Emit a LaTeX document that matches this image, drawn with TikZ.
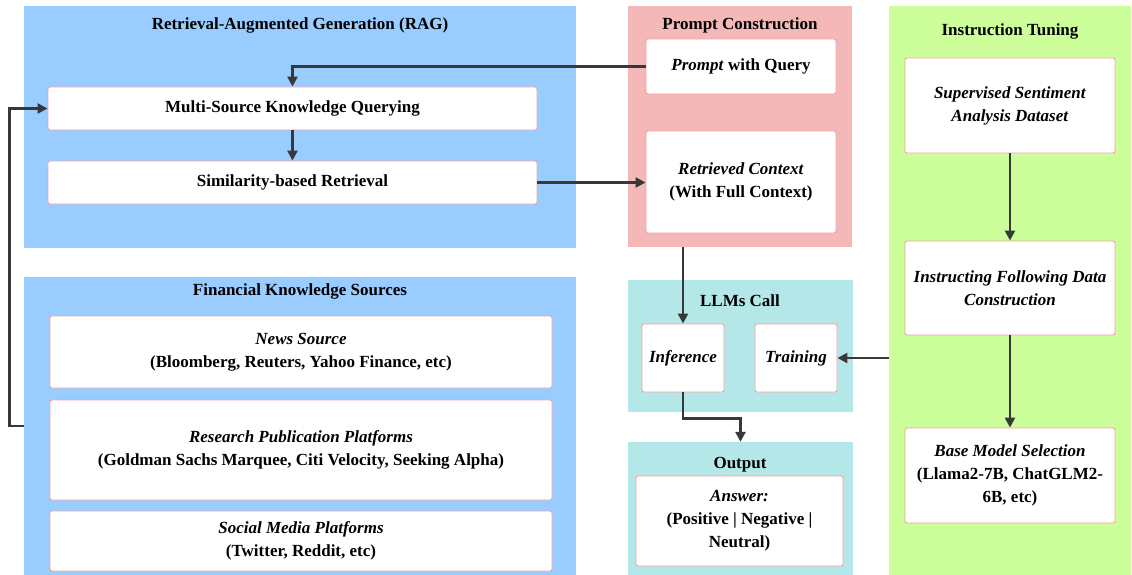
\documentclass[tikz,border=0pt]{standalone}
\usepackage{fontspec}
\setmainfont{Liberation Serif}
\usepackage{xcolor}
\usepackage{tikz}
\usetikzlibrary{arrows.meta}
\usetikzlibrary{calc}
\definecolor{ragblue}{RGB}{153,204,255}
\definecolor{promptpink}{RGB}{244,184,184}
\definecolor{llmcyan}{RGB}{180,232,232}
\definecolor{tunegreen}{RGB}{204,255,153}
\definecolor{boxedge}{RGB}{242,160,160}
\colorlet{flowgray}{black!78}
\tikzstyle{panel}=[draw=none,inner sep=0pt]
\tikzstyle{ptitle}=[inner sep=0pt,font=\bfseries]
\tikzstyle{stage}=[draw=boxedge,line width=.9pt,rounded corners=2pt,fill=white,align=center,inner sep=2pt,font=\bfseries]
\tikzstyle{flowhead}=[>/.tip={Triangle[length=10pt,width=10pt]}]
\tikzstyle{flow}=[line width=2.8pt,draw=flowgray,flowhead,->]
\begin{document}
\fontsize{17}{23}\selectfont
\begin{tikzpicture}[x=1pt,y=-1pt]
	\useasboundingbox (0,0) rectangle (1132,575);
	% panels
	\node[panel,fill=ragblue,minimum width=552,minimum height=242] (rag) at (300,127) {};
	\node[panel,fill=ragblue,minimum width=552,minimum height=298] (fks) at (300,426) {};
	\node[panel,fill=promptpink,minimum width=224,minimum height=241] (prompt) at (740,126.5) {};
	\node[panel,fill=llmcyan,minimum width=225,minimum height=132] (llm) at (740.5,346) {};
	\node[panel,fill=llmcyan,minimum width=225,minimum height=133] (out) at (740.5,508.5) {};
	\node[panel,fill=tunegreen,minimum width=242,minimum height=569] (tune) at (1010,290.5) {};
	\node[ptitle] (ragT) at (300,25) {Retrieval-Augmented Generation (RAG)};
	\node[ptitle] (fksT) at (300,291) {Financial Knowledge Sources};
	\node[ptitle] (promptT) at (740,25) {Prompt Construction};
	\node[ptitle] (llmT) at (740,301) {LLMs Call};
	\node[ptitle] (outT) at (740,465) {Output};
	\node[ptitle] (tuneT) at (1010,31) {Instruction Tuning};
	% stages
	\node[stage,minimum width=489,minimum height=43] (query) at (292.5,108.5) {Multi-Source Knowledge Querying};
	\node[stage,minimum width=489,minimum height=43] (simret) at (292.5,182.5) {Similarity-based Retrieval};
	\node[stage,minimum width=502,minimum height=72] (news) at (301,352) {\textit{News Source}\\(Bloomberg, Reuters, Yahoo Finance, etc)};
	\node[stage,minimum width=502,minimum height=100] (research) at (301,450) {\textit{Research Publication Platforms}\\(Goldman Sachs Marquee, Citi Velocity, Seeking Alpha)};
	\node[stage,minimum width=502,minimum height=60] (social) at (301,541) {\textit{Social Media Platforms}\\(Twitter, Reddit, etc)};
	\node[stage,minimum width=190,minimum height=55] (pquery) at (741,66.5) {\textit{Prompt} with Query};
	\node[stage,minimum width=190,minimum height=102] (context) at (741,182) {\textit{Retrieved Context}\\(With Full Context)};
	\node[stage,minimum width=82,minimum height=68] (infer) at (683,358) {\textit{Inference}};
	\node[stage,minimum width=82,minimum height=68] (train) at (796,358) {\textit{Training}};
	\node[stage,minimum width=207,minimum height=90] (answer) at (739.5,521) {\textit{Answer:}\\(Positive | Negative |\\Neutral)};
	\node[stage,minimum width=210,minimum height=95] (dataset) at (1010,105.5) {\textit{Supervised Sentiment}\\\textit{Analysis Dataset}};
	\node[stage,minimum width=210,minimum height=94] (instr) at (1010,288) {\textit{Instructing Following Data}\\\textit{Construction}};
	\node[stage,minimum width=210,minimum height=95] (base) at (1010,475.5) {\textit{Base Model Selection}\\(Llama2-7B, ChatGLM2-\\6B, etc)};
	% connectors
	\draw[flow] (pquery.west) -| (query.north);
	\draw[flow] (query) -- (simret);
	\draw[flow] (simret.east) -- (simret.east -| context.west);
	\draw[flow] (fks.west) -- ++(-14,0) |- (query.west);
	\draw[flow] (prompt.south -| infer) -- (infer.north);
	\draw[flow] (infer.south) -- ++(0,26) -| (out.north);
	\draw[flow] (tune.west |- train) -- (train.east);
	\draw[flow] (dataset) -- (instr);
	\draw[flow] (instr) -- (base);
\end{tikzpicture}
\end{document}
